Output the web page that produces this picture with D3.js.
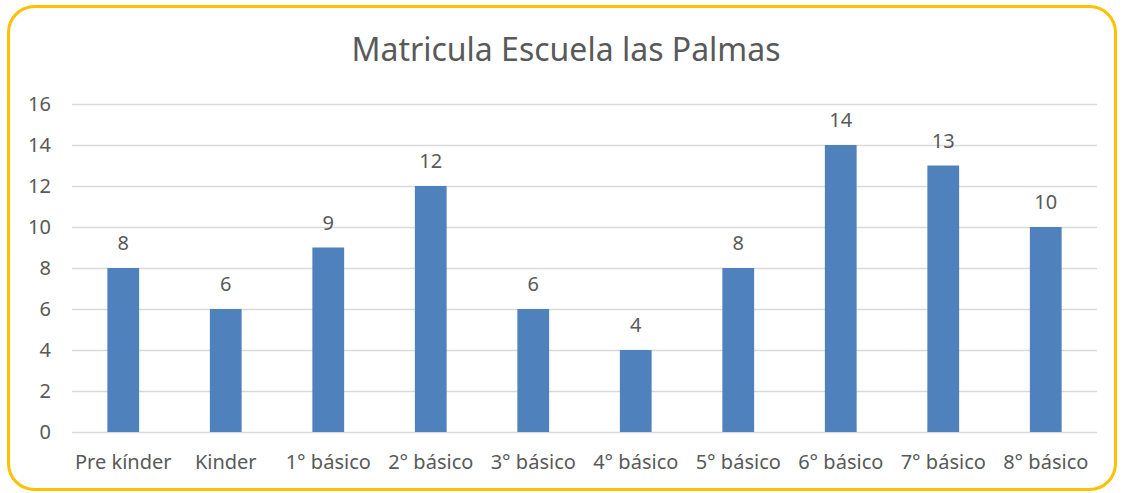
<!DOCTYPE html>
<html>
<head>
<meta charset="utf-8">
<script src="https://cdn.jsdelivr.net/npm/d3@7"></script>
<style>
  body { margin: 0; background: #fff; }
  text { font-family: "Noto Sans", "Open Sans", sans-serif; fill: #595959; }
</style>
</head>
<body>
<script>
  var w = 1124, h = 493;
  var margin = {top: 104, bottom: 61, left: 72, right: 27};

  var categories = ["Pre kínder", "Kinder", "1° básico", "2° básico", "3° básico",
                    "4° básico", "5° básico", "6° básico", "7° básico", "8° básico"];
  var values = [8, 6, 9, 12, 6, 4, 8, 14, 13, 10];
  var yTicks = [0, 2, 4, 6, 8, 10, 12, 14, 16];
  var title = "Matricula Escuela las Palmas";

  var svg = d3.select("body").append("svg")
    .attr("width", w)
    .attr("height", h);

  // yellow rounded frame
  svg.append("rect")
    .attr("x", 8.5).attr("y", 6.5)
    .attr("width", w - 17).attr("height", h - 10)
    .attr("rx", 26).attr("ry", 26)
    .attr("fill", "#fff")
    .attr("stroke", "#FFC000")
    .attr("stroke-width", 3);

  var xScale = d3.scaleBand()
    .domain(categories)
    .range([margin.left, w - margin.right])
    .paddingInner(0.69)
    .paddingOuter(0.345);

  var yScale = d3.scaleLinear()
    .domain([0, 16])
    .range([h - margin.bottom, margin.top]);

  // gridlines
  svg.append("g")
    .selectAll("line")
    .data(yTicks)
    .enter().append("line")
    .attr("x1", margin.left)
    .attr("x2", w - margin.right)
    .attr("y1", function (d) { return yScale(d) + 0.5; })
    .attr("y2", function (d) { return yScale(d) + 0.5; })
    .attr("stroke", "#d9d9d9")
    .attr("stroke-width", 1.5);

  var yAxis = svg.append("g")
    .attr("transform", "translate(" + (margin.left - 21) + ",0)")
    .call(d3.axisLeft(yScale).tickValues(yTicks).tickSize(0).tickPadding(0));
  yAxis.select(".domain").remove();
  yAxis.attr("font-family", null).attr("font-size", 20);
  yAxis.selectAll("text").attr("fill", "#595959");

  var xAxis = svg.append("g")
    .attr("transform", "translate(0," + (h - margin.bottom) + ")")
    .call(d3.axisBottom(xScale).tickSize(0).tickPadding(23));
  xAxis.select(".domain").remove();
  xAxis.attr("font-family", null).attr("font-size", 20);
  xAxis.selectAll("text").attr("fill", "#595959");

  svg.selectAll("rect.bar")
    .data(values)
    .enter().append("rect")
    .attr("class", "bar")
    .attr("x", function (d, i) { return xScale(categories[i]); })
    .attr("y", function (d) { return yScale(d); })
    .attr("width", xScale.bandwidth())
    .attr("height", function (d) { return yScale(0) - yScale(d); })
    .attr("fill", "#4F81BD");

  svg.selectAll("text.label")
    .data(values)
    .enter().append("text")
    .attr("class", "label")
    .attr("x", function (d, i) { return xScale(categories[i]) + xScale.bandwidth() / 2; })
    .attr("y", function (d) { return yScale(d) - 18; })
    .attr("text-anchor", "middle")
    .attr("font-size", 20)
    .text(function (d) { return d; });

  svg.append("text")
    .attr("x", 566)
    .attr("y", 61)
    .attr("text-anchor", "middle")
    .attr("font-size", 32)
    .text(title);
</script>
</body>
</html>
